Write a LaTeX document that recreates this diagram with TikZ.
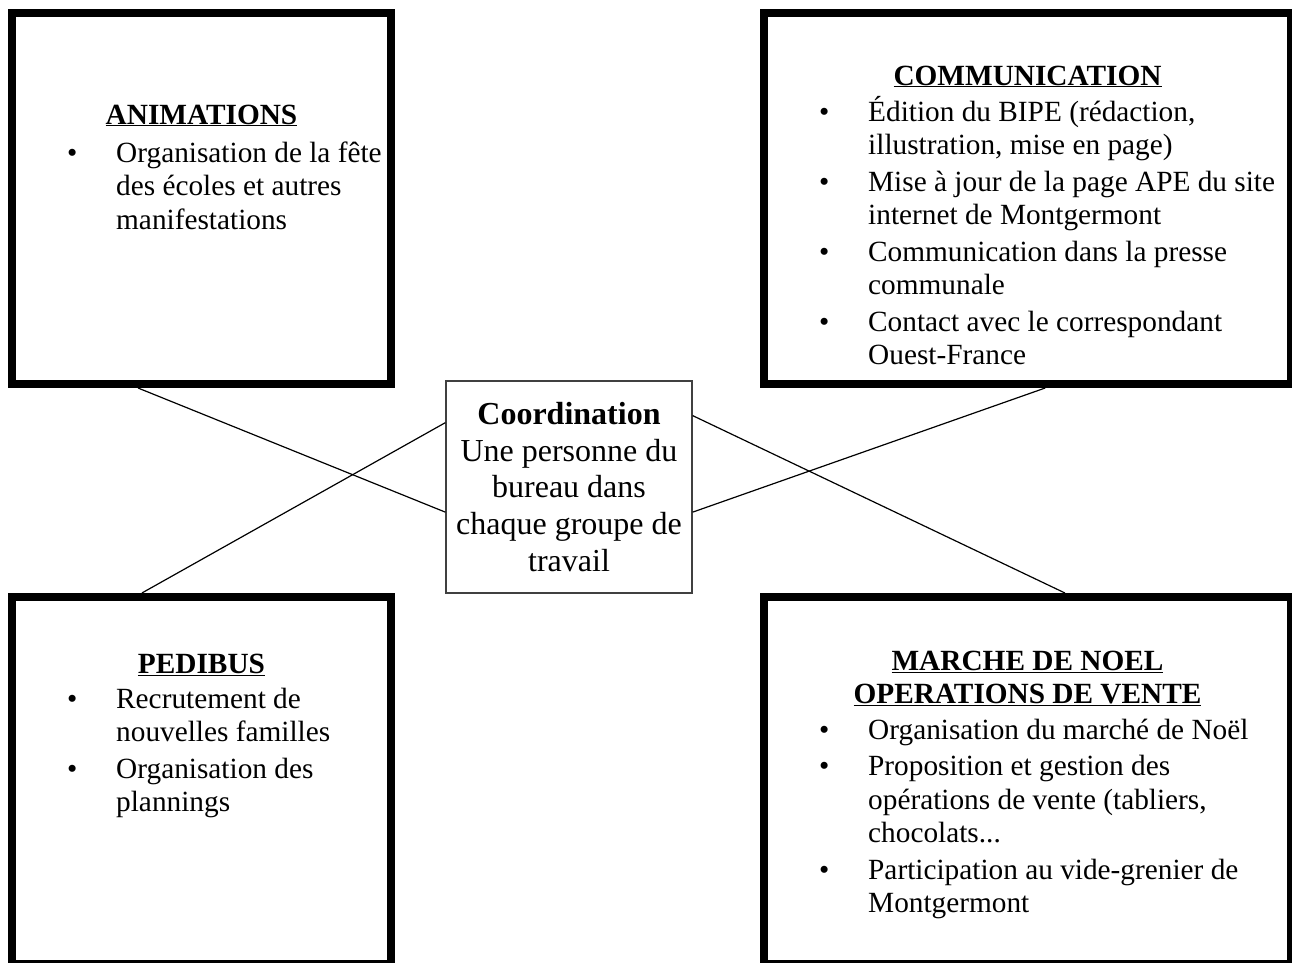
\documentclass[tikz,border=0pt]{standalone}
\usepackage{fontspec}
\setmainfont{Liberation Serif}
\usetikzlibrary{calc}
\newcommand{\listefont}{\fontsize{29.3}{33.5}\selectfont}
\newcommand{\centrefont}{\fontsize{32}{36.8}\selectfont}
\newcommand{\nl}{\hfil\break}
\newcommand{\puce}[1]{\hangindent=49pt\hangafter=1\noindent
  \makebox[49pt][l]{\textbullet}#1\par\vspace{3pt}}
\tikzset{
  grpbox/.style={draw,line width=8pt,inner sep=0pt},
  coordbox/.style={draw=black!75,line width=1.2pt,inner sep=0pt,
    text width=240pt,align=flush center,font=\centrefont},
  titre/.style={inner sep=0pt,anchor=base,align=flush center,font=\listefont\bfseries},
  liste/.style={inner sep=0pt,anchor=base west,align=flush left,font=\listefont},
  lien/.style={line width=1.2pt},
}
\begin{document}
\begin{tikzpicture}[x=1pt,y=-1pt]
  \useasboundingbox (0,0) rectangle (1292,962);
  \clip (0,0) rectangle (1292,962);
  % groupes de travail
  \node[grpbox,minimum width=379,minimum height=371.5] (anim) at (201.5,198.25) {};
  \node[grpbox,minimum width=527,minimum height=371.5] (comm) at (1027.5,198.25) {};
  \node[grpbox,minimum width=379,minimum height=367] (pedi) at (201.5,780.5) {};
  \node[grpbox,minimum width=527,minimum height=367] (noel) at (1027.5,780.5) {};
  \node[coordbox,minimum width=246,minimum height=212] (coord) at (569,487)
    {\textbf{Coordination}\\Une personne du\\bureau dans\\chaque groupe de\\travail};
  % titres
  \node[titre,text width=379pt] (anim-t) at (201.5,124) {\underline{ANIMATIONS}};
  \node[titre,text width=527pt] (comm-t) at (1027.5,85) {\underline{COMMUNICATION}};
  \node[titre,text width=379pt] (pedi-t) at (201.5,673) {\underline{PEDIBUS}};
  \node[titre,text width=527pt] (noel-t) at (1027.5,670)
    {\underline{MARCHE DE NOEL}\\\underline{OPERATIONS DE VENTE}};
  % listes
  \node[liste,text width=400pt] (anim-l) at (67,162) {%
    \puce{Organisation de la fête\nl des écoles et autres\nl manifestations}};
  \node[liste,text width=520pt] (comm-l) at (819,121) {%
    \puce{Édition du BIPE (rédaction,\nl illustration, mise en page)}
    \puce{Mise à jour de la page APE du site\nl internet de Montgermont}
    \puce{Communication dans la presse\nl communale}
    \puce{Contact avec le correspondant\nl Ouest-France}};
  \node[liste,text width=400pt] (pedi-l) at (67,708) {%
    \puce{Recrutement de\nl nouvelles familles}
    \puce{Organisation des\nl plannings}};
  \node[liste,text width=520pt] (noel-l) at (819,739) {%
    \puce{Organisation du marché de Noël}
    \puce{Proposition et gestion des\nl opérations de vente (tabliers,\nl chocolats...}
    \puce{Participation au vide-grenier de\nl Montgermont}};
  % liens
  \draw[lien] ($(anim.south west)!0.336!(anim.south east)$) -- ($(coord.north west)!0.618!(coord.south west)$);
  \draw[lien] ($(coord.north west)!0.198!(coord.south west)$) -- ($(pedi.north west)!0.346!(pedi.north east)$);
  \draw[lien] ($(coord.north east)!0.165!(coord.south east)$) -- ($(noel.north west)!0.570!(noel.north east)$);
  \draw[lien] ($(coord.north east)!0.618!(coord.south east)$) -- ($(comm.south west)!0.533!(comm.south east)$);
\end{tikzpicture}
\end{document}
